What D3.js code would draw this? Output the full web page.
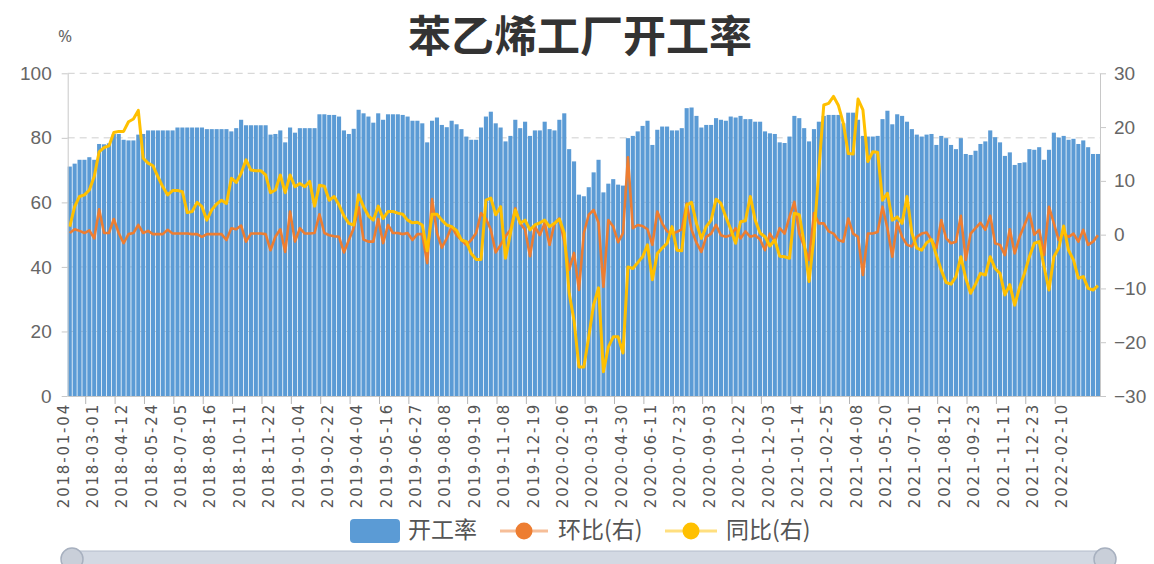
<!DOCTYPE html>
<html>
<head>
<meta charset="utf-8">
<script src="https://cdn.jsdelivr.net/npm/d3@7"></script>
<style>
body { margin: 0; background: #fff; }
svg { display: block; font-family: "Noto Sans", "Noto Sans CJK SC", sans-serif; }
</style>
</head>
<body>
<svg id="chart" width="1154" height="564"></svg>
<script>
// every 6th week is labelled on the axis
const tickDates = ['2018-01-04','2018-03-01','2018-04-12','2018-05-24','2018-07-05','2018-08-16','2018-10-11','2018-11-22',
  '2019-01-04','2019-02-22','2019-04-04','2019-05-16','2019-06-27','2019-08-08','2019-09-19','2019-11-08','2019-12-19',
  '2020-02-06','2020-03-19','2020-04-30','2020-06-11','2020-07-23','2020-09-03','2020-10-22','2020-12-03',
  '2021-01-14','2021-02-25','2021-04-08','2021-05-20','2021-07-01','2021-08-12','2021-09-23','2021-11-11','2021-12-23',
  '2022-02-10']

// 开工率 (%)
const rate = [71.1,72.0,73.2,73.2,74.0,73.2,78.1,78.0,78.3,81.2,81.2,79.4,79.2,79.2,81.0,81.2,82.3,82.3,82.3,82.3,
  82.3,82.3,83.2,83.2,83.2,83.2,83.2,83.2,82.7,82.7,82.7,82.7,82.7,82.0,83.0,85.6,83.9,83.9,83.9,83.9,
  83.9,81.0,81.2,82.3,78.6,83.2,81.6,83.0,83.0,83.0,83.0,87.3,87.3,87.1,87.1,86.6,82.3,81.2,82.8,88.7,
  87.6,86.6,84.7,87.6,85.6,87.3,87.3,87.3,87.1,86.6,85.3,85.3,84.5,78.6,85.3,86.3,84.0,83.3,85.3,84.2,
  82.7,80.4,79.4,79.4,83.2,86.6,88.1,84.5,83.2,78.9,80.6,85.6,83.0,85.0,80.6,82.3,82.3,85.0,82.7,82.3,
  85.6,87.6,76.5,72.7,62.4,61.9,64.7,69.3,73.2,63.1,65.8,67.2,65.5,65.2,79.9,80.6,82.0,83.7,85.3,77.8,
  82.5,83.5,83.5,82.3,82.3,83.0,89.2,89.4,86.8,83.2,84.0,84.0,86.1,85.6,85.3,86.6,86.3,86.8,85.8,85.8,
  85.0,85.0,82.0,81.4,81.2,78.6,78.4,80.4,86.8,86.1,83.0,78.9,82.7,85.0,86.8,87.1,87.1,87.1,84.5,87.8,
  87.8,85.6,80.6,80.4,80.4,80.6,85.8,88.4,84.2,87.3,86.8,85.0,82.7,81.0,80.4,81.0,81.2,77.8,80.6,79.9,
  77.8,76.5,79.9,75.0,74.7,76.0,78.1,78.9,82.3,80.2,78.6,74.4,75.5,71.6,72.2,72.4,76.5,76.3,77.1,73.2,
  76.3,81.6,80.1,80.6,79.4,79.7,78.1,79.2,77.1,75.0,75.0]

// 环比 (右轴, %)
const mom = [0.3,1.0,0.7,0.3,0.8,-0.7,4.7,0.3,0.3,2.9,0.3,-1.6,0.1,0.3,1.8,0.3,0.7,0.1,0.1,0.1,
  0.9,0.2,0.2,0.2,0.2,0.1,0.1,-0.4,0.1,0.1,0.1,0.1,-1.0,1.2,1.0,1.7,-1.3,0.2,0.2,0.2,
  0.1,-2.9,-0.4,1.0,-3.2,4.3,-1.3,1.2,0.2,0.2,0.3,3.8,0.3,-0.1,-0.3,-0.4,-3.3,-1.0,1.2,5.1,
  -0.9,-1.3,-1.3,2.9,-1.6,1.8,0.3,0.3,0.1,0.3,-1.0,0.1,0.1,-5.3,6.6,0.3,-2.4,-0.7,1.5,-0.1,
  -1.0,-1.9,-1.0,0.3,4.0,3.0,0.9,-3.3,-1.9,-0.3,0.9,4.9,2.1,0.9,-4.0,1.5,-0.1,2.1,-1.9,2.1,
  3.0,-1.3,-6.5,-3.4,-10.3,0.3,3.7,4.6,2.2,-9.7,2.7,1.5,-1.4,0.3,14.4,1.2,1.8,1.6,1.0,-1.9,
  4.3,2.1,0.6,0.2,0.5,1.0,5.8,0.9,-1.5,-3.2,-0.4,0.2,1.8,-0.1,-0.4,-0.1,1.2,-0.7,0.6,-0.4,
  -0.1,-0.9,-2.9,0.2,-1.3,1.2,0.2,3.3,6.1,0.2,-2.2,-4.7,4.0,2.1,2.1,0.6,0.2,-1.0,-1.3,3.0,
  0.2,-0.4,-7.5,0.2,0.2,0.5,5.2,1.2,-4.1,2.2,-0.4,-1.9,-2.2,-0.4,0.2,0.4,-1.0,-2.5,2.7,-0.7,
  -1.6,-1.3,3.5,-4.7,0.2,1.2,2.2,0.9,3.5,-1.6,-1.9,-3.8,1.0,-3.5,-0.4,1.8,4.0,0.0,0.9,-3.8,
  5.2,2.1,-1.0,0.2,-0.4,0.2,-1.3,0.9,-1.9,-1.3,-0.1]

// 同比 (右轴, %)
const yoy = [1.5,5.2,7.1,7.4,8.3,10.8,15.4,16.2,16.5,19.0,19.2,19.2,21.0,21.5,23.1,14.2,13.3,12.8,10.8,8.9,
  7.4,8.2,8.2,8.0,4.1,4.3,6.0,5.2,2.7,4.6,5.7,6.4,5.8,10.5,9.7,11.4,13.9,12.0,11.9,11.9,
  11.1,7.8,8.3,11.1,7.8,11.1,8.9,9.5,8.9,9.9,5.3,9.2,9.0,6.4,7.1,5.5,3.5,2.1,1.8,7.4,
  5.2,3.5,2.7,5.3,3.0,4.3,4.3,4.0,3.8,2.7,2.2,2.3,1.8,-3.0,3.8,3.8,2.7,1.8,1.5,0.8,
  -1.0,-1.3,-3.5,-4.6,-4.6,6.4,6.8,3.7,5.2,-4.4,0.2,4.6,2.1,2.7,0.9,1.8,2.2,2.7,1.5,2.1,
  2.9,0.3,-10.9,-16.0,-24.6,-24.6,-19.0,-13.0,-9.9,-25.5,-20.9,-19.0,-19.0,-22.0,-6.0,-6.3,-5.2,-4.1,-1.9,-8.4,
  -3.5,-2.5,-1.6,1.5,-2.9,-3.0,5.5,6.0,2.1,-0.7,1.5,2.7,6.6,5.8,3.3,1.0,-1.6,2.4,2.6,7.1,
  2.7,0.3,-0.4,-2.1,-1.0,-4.0,-4.1,-4.4,4.0,3.7,-1.6,-8.7,-0.4,12.0,24.1,24.4,25.7,24.0,20.7,15.1,
  15.0,25.2,23.2,13.6,15.4,15.3,6.4,7.7,2.7,3.3,2.1,7.1,0.3,-2.5,-2.9,-1.5,-0.9,-3.8,-6.6,-8.9,
  -9.2,-7.8,-4.1,-8.1,-10.9,-9.2,-7.2,-7.5,-4.1,-6.3,-7.2,-11.2,-9.3,-13.1,-9.8,-7.2,-4.1,-1.6,-1.3,-6.0,
  -10.3,-4.1,-2.5,1.6,-2.9,-4.7,-8.1,-7.8,-10.0,-10.3,-9.5]

const seriesNames = ['开工率', '环比(右)', '同比(右)']
const colors = ['#5b9bd5', '#ed7d31', '#ffc000']

// weekly categories, filled forward from each labelled date
const parse = d3.utcParse('%Y-%m-%d')
const fmt = d3.utcFormat('%Y-%m-%d')
const dates = []
tickDates.forEach((t, i) => {
    const n = i === tickDates.length - 1 ? rate.length - dates.length : 6
    for (let k = 0; k < n; k++) dates.push(fmt(d3.utcDay.offset(parse(t), 7 * k)))
})

const svg = d3.select('#chart')
const margin = {top: 73.3, right: 54, bottom: 168, left: 67.7}
const width = 1154, height = 564
const plotBottom = height - margin.bottom

const x = d3.scaleBand().domain(dates).range([margin.left, width - margin.right]).paddingInner(0.16).paddingOuter(0)
const yL = d3.scaleLinear().domain([0, 100]).range([plotBottom, margin.top])
const yR = d3.scaleLinear().domain([-30, 30]).range([plotBottom, margin.top])
const cx = d => x(d) + x.bandwidth() / 2

// title
svg.append('text')
    .attr('x', 580).attr('y', 52)
    .attr('text-anchor', 'middle')
    .style('font-family', '"Noto Sans CJK SC", sans-serif')
    .style('font-size', '43px').style('font-weight', 'bold')
    .attr('fill', '#333')
    .text('苯乙烯工厂开工率')

svg.append('text')
    .attr('x', 58).attr('y', 42)
    .style('font-size', '17px').attr('fill', '#666')
    .text('%')

// dashed grid
svg.append('g').selectAll('line').data([20, 40, 60, 80, 100]).enter().append('line')
    .attr('x1', margin.left).attr('x2', width - margin.right)
    .attr('y1', d => yL(d)).attr('y2', d => yL(d))
    .attr('stroke', '#cfcfcf').attr('stroke-dasharray', '7,5')

// bars
svg.append('g').selectAll('rect').data(rate).enter().append('rect')
    .attr('x', (d, i) => x(dates[i]))
    .attr('y', d => yL(d))
    .attr('width', x.bandwidth())
    .attr('height', d => plotBottom - yL(d))
    .attr('fill', colors[0])

// lines
const line = arr => d3.line().x((d, i) => cx(dates[i])).y(d => yR(d))(arr)
svg.append('path').attr('d', line(mom))
    .attr('fill', 'none').attr('stroke', colors[1]).attr('stroke-width', 2.6).attr('stroke-linejoin', 'round')
svg.append('path').attr('d', line(yoy))
    .attr('fill', 'none').attr('stroke', colors[2]).attr('stroke-width', 3).attr('stroke-linejoin', 'round')

// axes
const styleAxis = g => {
    g.select('.domain').attr('stroke', '#c8c8c8')
    g.selectAll('.tick line').attr('stroke', '#c8c8c8')
    g.selectAll('text').attr('fill', '#666').style('font-size', '19px').style('font-family', '"Liberation Sans", sans-serif')
}
svg.append('g')
    .attr('transform', `translate(${margin.left},0)`)
    .call(d3.axisLeft(yL).tickValues([0, 20, 40, 60, 80, 100]).tickSize(6).tickPadding(10).tickSizeOuter(0))
    .call(styleAxis)

svg.append('g')
    .attr('transform', `translate(${width - margin.right},0)`)
    .call(d3.axisRight(yR).tickValues([-30, -20, -10, 0, 10, 20, 30]).tickSize(6).tickPadding(8).tickSizeOuter(0))
    .call(styleAxis)

const labelDates = tickDates.map((t, k) => dates[k * 6])
const xAxis = svg.append('g')
    .attr('transform', `translate(0,${plotBottom})`)
    .call(d3.axisBottom(x).tickValues(labelDates).tickSize(0).tickSizeOuter(0))
xAxis.select('.domain').attr('stroke', '#c8c8c8')
xAxis.selectAll('text')
    .attr('transform', 'rotate(-90)')
    .attr('x', -7).attr('y', -6.5).attr('dy', '0.35em')
    .attr('text-anchor', 'end')
    .attr('fill', '#555')
    .style('font-size', '15px').style('letter-spacing', '1.8px')
    .style('font-family', '"DejaVu Sans", sans-serif')

// tick marks sit between the labelled weeks
const tickIdx = d3.range(3, dates.length - 6, 6)
svg.append('g').selectAll('line').data(tickIdx).enter().append('line')
    .attr('x1', i => x(dates[i]) + x.step() * 0.68).attr('x2', i => x(dates[i]) + x.step() * 0.68)
    .attr('y1', plotBottom).attr('y2', plotBottom + 8)
    .attr('stroke', '#b5b5b5')

// legend
const legend = svg.append('g').attr('transform', 'translate(0,531)')
legend.append('rect').attr('x', 350).attr('y', -12).attr('width', 50).attr('height', 24).attr('rx', 4).attr('fill', colors[0])
const legendItems = [
    {name: seriesNames[1], color: colors[1], x0: 500, x1: 548, tx: 558},
    {name: seriesNames[2], color: colors[2], x0: 665, x1: 717, tx: 726},
]
legendItems.forEach(it => {
    legend.append('line').attr('x1', it.x0).attr('x2', it.x1).attr('stroke', it.color).attr('stroke-opacity', 0.5).attr('stroke-width', 3)
    legend.append('circle').attr('cx', (it.x0 + it.x1) / 2).attr('r', 8.5).attr('fill', it.color)
})
legend.selectAll('text.lg').data([{name: seriesNames[0], tx: 408}, ...legendItems]).enter().append('text')
    .attr('x', d => d.tx).attr('y', -1).attr('dy', '0.35em')
    .style('font-size', '23px').style('font-family', '"Noto Sans CJK SC", sans-serif')
    .attr('fill', '#555')
    .text(d => d.name)

// data zoom slider
const slider = svg.append('g')
slider.append('rect').attr('x', 64).attr('y', 551).attr('width', 1048).attr('height', 14).attr('rx', 7)
    .attr('fill', '#d3d9e3').attr('stroke', '#b3bccb')
slider.selectAll('circle').data([72, 1105]).enter().append('circle')
    .attr('cx', d => d).attr('cy', 559).attr('r', 11)
    .attr('fill', '#c9cfd9').attr('stroke', '#a7b0bf').attr('stroke-width', 1.5)
</script>
</body>
</html>
